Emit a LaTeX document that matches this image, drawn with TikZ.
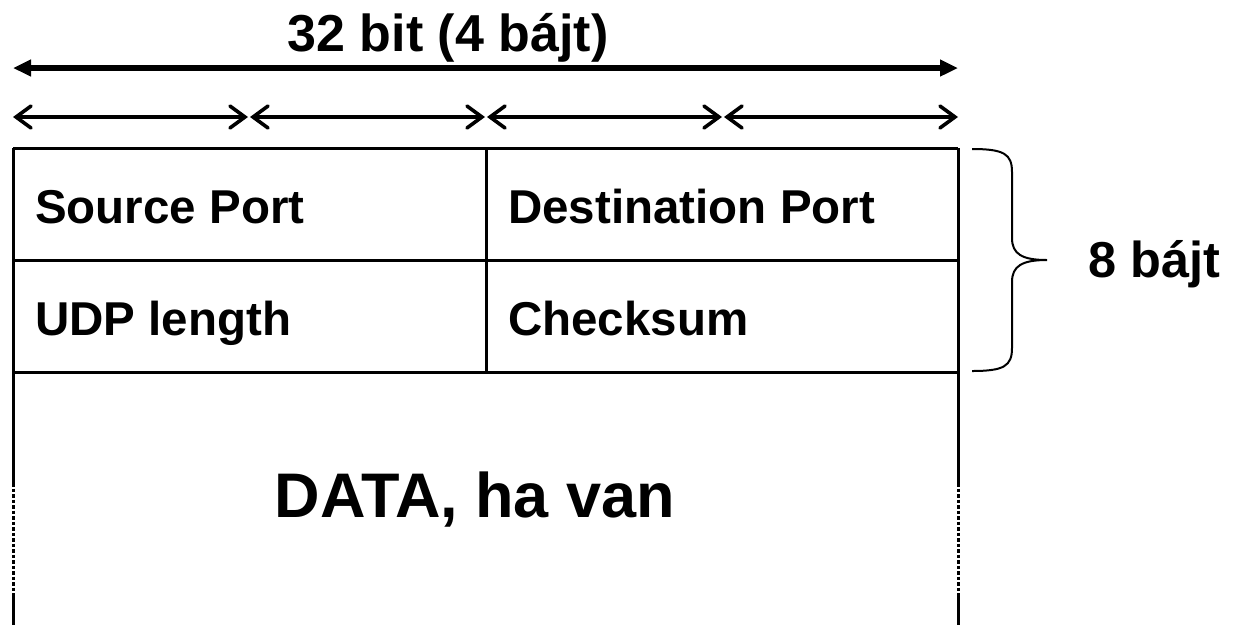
\documentclass[tikz,border=0pt]{standalone}
\usepackage{fontspec}
\setmainfont{Liberation Sans}
\usetikzlibrary{arrows.meta}
\begin{document}
\begin{tikzpicture}[x=1pt,y=-1pt,
  tablerule/.style={line width=3pt},
  dotrule/.style={line width=3pt,dash pattern=on 3.5pt off 2pt},
  bigdim/.style={line width=5.5pt,{Triangle[length=18pt,width=16pt]}-{Triangle[length=18pt,width=16pt]}},
  smalldim/.style={line width=3.6pt,{Straight Barb[length=15pt,width=22pt,line cap=round]}-{Straight Barb[length=15pt,width=22pt,line cap=round]}},
  bracestyle/.style={line width=2pt},
  lbl/.style={inner sep=0pt,anchor=base west,font=\bfseries\fontsize{47.5}{52}\selectfont},
  biglbl/.style={inner sep=0pt,anchor=base,font=\bfseries\fontsize{52}{58}\selectfont}]
\useasboundingbox (0,0) rectangle (1234,625);
% dimension coordinates
\coordinate (tl) at (13,68);
\coordinate (tr) at (958,68);
\coordinate (s0) at (13,117);
\coordinate (s1a) at (248,117);
\coordinate (s1b) at (250,117);
\coordinate (s2a) at (485,117);
\coordinate (s2b) at (487,117);
\coordinate (s3a) at (722,117);
\coordinate (s3b) at (724,117);
\coordinate (s4) at (958,117);
% table coordinates
\coordinate (a0) at (13,148);
\coordinate (a1) at (486,148);
\coordinate (a2) at (958,148);
\coordinate (b0) at (13,260);
\coordinate (b2) at (958,260);
\coordinate (c0) at (13,372);
\coordinate (c1) at (486,372);
\coordinate (c2) at (958,372);
\coordinate (d0) at (13,483);
\coordinate (d2) at (958,483);
\coordinate (e0) at (13,597);
\coordinate (e2) at (958,597);
\coordinate (f0) at (13,625);
\coordinate (f2) at (958,625);
% title and arrows
\node[biglbl] (title) at (448,51) {32 bit (4 bájt)};
\draw[bigdim] (tl) -- (tr);
\draw[smalldim] (s0) -- (s1a);
\draw[smalldim] (s1b) -- (s2a);
\draw[smalldim] (s2b) -- (s3a);
\draw[smalldim] (s3b) -- (s4);
% table
\draw[tablerule] (a0) -- (a2);
\draw[tablerule] (b0) -- (b2);
\draw[tablerule] (c0) -- (c2);
\draw[tablerule] (a1) -- (c1);
\draw[tablerule] (a0) -- (d0);
\draw[tablerule] (a2) -- (d2);
\draw[dotrule] (d0) -- (e0);
\draw[dotrule] (d2) -- (e2);
\draw[tablerule] (e0) -- (f0);
\draw[tablerule] (e2) -- (f2);
% labels
\node[lbl] (src) at (35,223) {Source Port};
\node[lbl] (dst) at (508,223) {Destination Port};
\node[lbl] (len) at (35,335) {UDP length};
\node[lbl] (chk) at (508,335) {Checksum};
\node[inner sep=0pt,anchor=base,font=\bfseries\fontsize{63}{69}\selectfont] (data) at (475,517) {DATA, ha van};
% brace
\draw[bracestyle] (972,149) .. controls (1004,149) and (1012,154) .. (1012,172)
  -- (1012,238) .. controls (1012,254) and (1022,260) .. (1047,260)
  .. controls (1022,260) and (1012,266) .. (1012,282)
  -- (1012,348) .. controls (1012,366) and (1004,371) .. (972,371);
\coordinate (bracetip) at (1047,260);
\node[inner sep=0pt,anchor=base west,font=\bfseries\fontsize{50.5}{56}\selectfont] (eight) at (1088,277) {8 bájt};
\end{tikzpicture}
\end{document}
